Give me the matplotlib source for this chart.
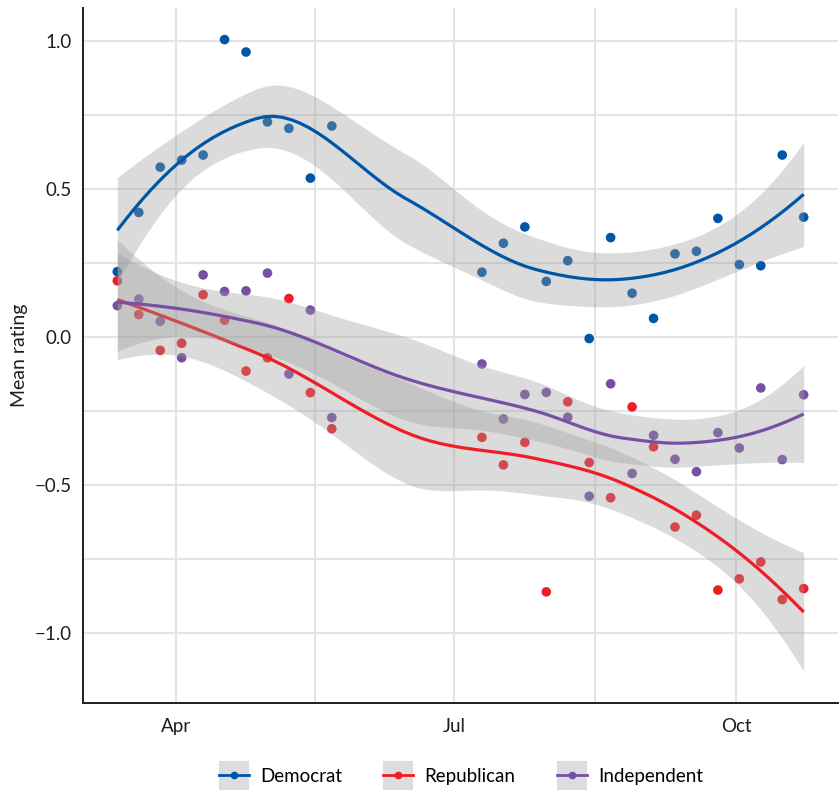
import numpy as np
import matplotlib
matplotlib.use("Agg")
import matplotlib.pyplot as plt
import matplotlib.dates as mdates
from matplotlib.lines import Line2D
from matplotlib.patches import Rectangle
from matplotlib.legend_handler import HandlerBase
from matplotlib.ticker import MultipleLocator, FixedLocator, FuncFormatter

plt.rcParams['font.family'] = ['Lato', 'DejaVu Sans']

# weekly survey waves; no fieldwork between late May and early July
first_wave = np.datetime64('2020-03-13')
wave_index = np.array(list(range(0, 11)) + list(range(17, 33)))
dates = first_wave + wave_index * np.timedelta64(7, 'D')

democrat = [0.22, 0.42, 0.573, 0.597, 0.614, 1.004, 0.962, 0.726, 0.704, 0.536, 0.712,
            0.218, 0.316, 0.371, 0.187, 0.257, -0.006, 0.335, 0.147, 0.062, 0.28,
            0.289, 0.40, 0.244, 0.24, 0.614, 0.404]
republican = [0.189, 0.075, -0.046, -0.022, 0.142, 0.056, -0.116, -0.071, 0.129, -0.189, -0.311,
              -0.34, -0.433, -0.357, -0.862, -0.22, -0.425, -0.544, -0.237, -0.372, -0.643,
              -0.603, -0.856, -0.818, -0.761, -0.888, -0.851]
independent = [0.105, 0.127, 0.052, -0.071, 0.209, 0.153, 0.155, 0.215, -0.126, 0.09, -0.273,
               -0.092, -0.278, -0.195, -0.188, -0.272, -0.539, -0.159, -0.462, -0.333, -0.414,
               -0.456, -0.324, -0.376, -0.173, -0.415, -0.196]

parties = ['Democrat', 'Republican', 'Independent']
colors = ['#0056a6', '#ee1d26', '#7750a5']
series = [democrat, republican, independent]

SPAN = 0.75


def local_rows(x, x0, q):
    # local quadratic fit at x0 (tricube weights); rows giving value and slope
    d = np.abs(x - x0)
    h = np.sort(d)[q - 1]
    w = np.clip(1 - (d / h) ** 3, 0, None) ** 3
    X = np.column_stack([np.ones(len(x)), x - x0, (x - x0) ** 2])
    XtW = X.T * w
    A = np.linalg.solve(XtW @ X, XtW)
    return A[0], A[1]


def kd_vertices(x, fc):
    xs = np.sort(x)
    lo, hi = xs[0], xs[-1]
    mu = 0.005 * (hi - lo)
    verts = [lo - mu, hi + mu]

    def split(pts):
        if len(pts) <= fc:
            return
        m = (1 + len(pts)) // 2
        verts.append((pts[m - 1] + pts[m]) / 2)
        split(pts[:m])
        split(pts[m:])

    split(xs)
    return np.sort(np.array(verts))


def loess_operator(x, xs):
    # fits at vertices, cubic Hermite interpolation in between
    n = len(x)
    q = int(np.floor(n * SPAN))
    verts = kd_vertices(x, int(np.floor(n * SPAN * 0.2)))
    vals, slopes = zip(*[local_rows(x, v, q) for v in verts])
    vals, slopes = np.array(vals), np.array(slopes)
    rows = []
    for x0 in xs:
        j = min(max(np.searchsorted(verts, x0) - 1, 0), len(verts) - 2)
        h = verts[j + 1] - verts[j]
        t = (x0 - verts[j]) / h
        h00 = 2 * t ** 3 - 3 * t ** 2 + 1
        h10 = t ** 3 - 2 * t ** 2 + t
        h01 = -2 * t ** 3 + 3 * t ** 2
        h11 = t ** 3 - t ** 2
        rows.append(h00 * vals[j] + h10 * h * slopes[j] + h01 * vals[j + 1] + h11 * h * slopes[j + 1])
    return np.array(rows)


def loess_fit(x, y, xs):
    y = np.asarray(y)
    M = np.eye(len(x)) - loess_operator(x, x)
    res = M @ y
    MtM = M.T @ M
    d1 = np.trace(MtM)
    d2 = np.trace(MtM @ MtM)
    s = np.sqrt(np.sum(res ** 2) / d1)
    df = d1 ** 2 / d2
    z = 1.959964
    t = z + (z ** 3 + z) / (4 * df) + (5 * z ** 5 + 16 * z ** 3 + 3 * z) / (96 * df ** 2)
    Ls = loess_operator(x, xs)
    fit = Ls @ y
    se = s * np.sqrt(np.sum(Ls ** 2, axis=1))
    return fit, fit - t * se, fit + t * se


class KeyHandler(HandlerBase):
    # grey square key with the smooth line and a point across it
    def create_artists(self, legend, orig_handle, xdescent, ydescent,
                       width, height, fontsize, trans):
        c = orig_handle.get_color()
        cy = height / 2 - ydescent
        x0 = -xdescent
        box = Rectangle((x0, cy - width * 0.47), width, width * 0.94,
                        facecolor='#dcddde', edgecolor='none', transform=trans)
        line = Line2D([x0, x0 + width], [cy, cy], color=c, lw=2.0, transform=trans)
        dot = Line2D([x0 + width / 2], [cy], marker='o', markersize=4.5,
                     color=c, linestyle='none', transform=trans)
        return [box, line, dot]


xnum = mdates.date2num(dates.astype('datetime64[D]').astype(object))
xgrid = np.linspace(xnum.min(), xnum.max(), 80)

fig = plt.figure(figsize=(8.4, 7.91), dpi=100)
ax = fig.add_axes([83 / 840, 1 - 703 / 791, 755 / 840, 695 / 791])

for vals, c in zip(series, colors):
    ax.scatter(xnum, vals, s=48, color=c, edgecolors='none', zorder=2)

for vals, c in zip(series, colors):
    fit, lo, hi = loess_fit(xnum, vals, xgrid)
    ax.fill_between(xgrid, lo, hi, color='#9c9c9c', alpha=0.36, linewidth=0, zorder=3)
    ax.plot(xgrid, fit, color=c, lw=2.3, zorder=3, solid_capstyle='butt')

ax.xaxis_date()
ax.xaxis.set_major_locator(mdates.MonthLocator(bymonth=[1, 4, 7, 10]))
ax.xaxis.set_major_formatter(mdates.DateFormatter('%b'))
ax.xaxis.set_minor_locator(FixedLocator(mdates.date2num(
    [np.datetime64('2020-05-16T12:00').astype(object),
     np.datetime64('2020-08-16T00:00').astype(object)])))
ax.yaxis.set_major_locator(MultipleLocator(0.5))
ax.yaxis.set_minor_locator(MultipleLocator(0.25))
ax.yaxis.set_major_formatter(FuncFormatter(lambda v, p: f'{v:.1f}'.replace('-', '\u2212')))

ax.grid(True, which='both', color='#e3e3e5', lw=1.5, zorder=0)
ax.set_axisbelow(True)
for side in ['top', 'right']:
    ax.spines[side].set_visible(False)
for side in ['left', 'bottom']:
    ax.spines[side].set_color('#1e1e1e')
    ax.spines[side].set_linewidth(1.4)
ax.tick_params(which='both', length=0, labelsize=13.5, labelcolor='#1e1e1e')
ax.tick_params(axis='y', pad=8)
ax.tick_params(axis='x', pad=11)
ax.set_ylabel('Mean rating', fontsize=14, color='#1e1e1e', labelpad=5)

handles = [Line2D([], [], color=c) for c in colors]
fig.legend(handles, parties, handler_map={Line2D: KeyHandler()},
           loc='center', bbox_to_anchor=(461 / 840, 15 / 791), ncol=3, frameon=False,
           fontsize=13.5, handlelength=1.6, handleheight=1.0, handletextpad=0.6,
           columnspacing=2.2)

fig.savefig('out.png', dpi=100)
